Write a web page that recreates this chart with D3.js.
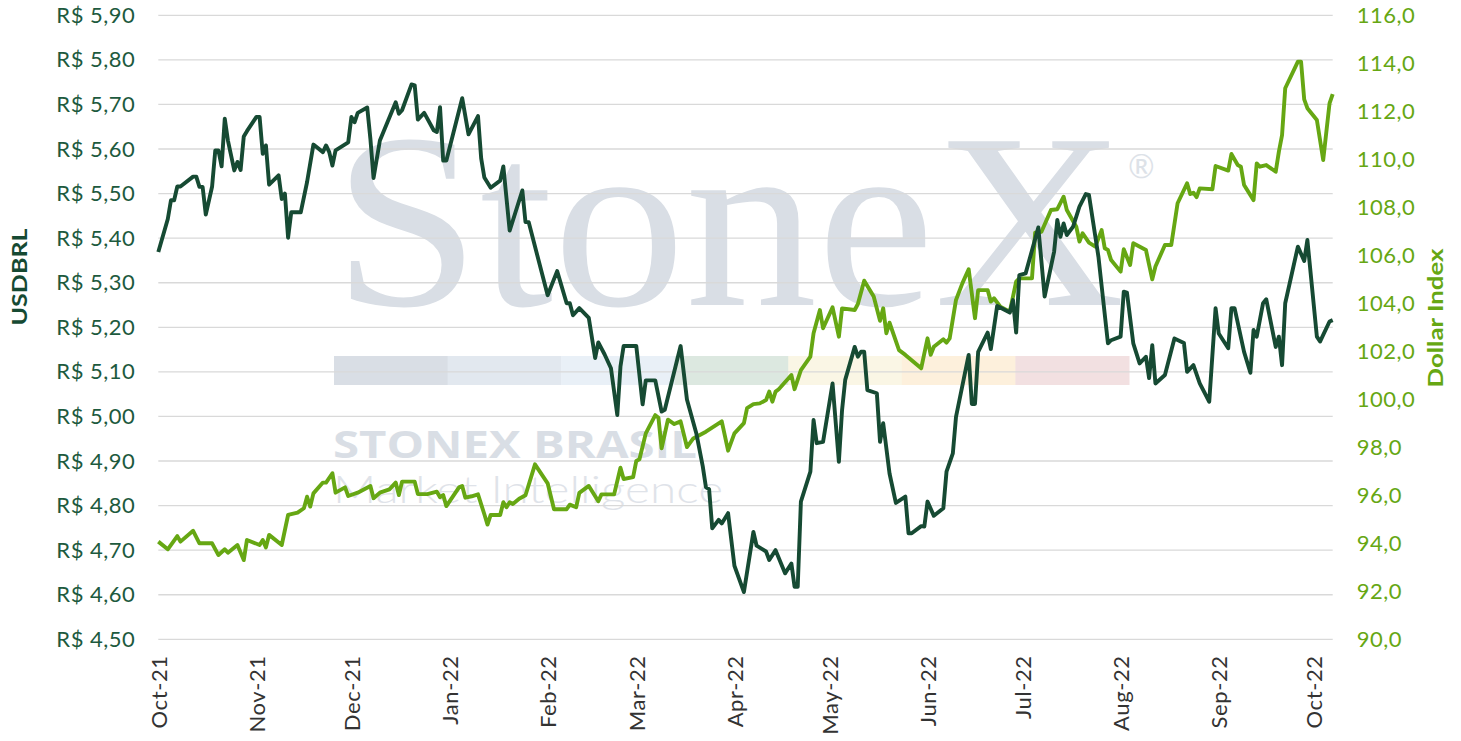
<!DOCTYPE html>
<html>
<head>
<meta charset="utf-8">
<script src="https://cdn.jsdelivr.net/npm/d3@7"></script>
<style>
  body { margin: 0; background: #ffffff; }
  svg { display: block; font-family: Lato, "Open Sans", sans-serif; }
</style>
</head>
<body>
<div id="chart"></div>
<script>
// USDBRL (left axis)
const usdbrlData = [
  ["2021-10-01",5.369],["2021-10-04",5.443],["2021-10-05",5.485],["2021-10-06",5.485],["2021-10-07",5.516],
  ["2021-10-08",5.516],["2021-10-12",5.538],["2021-10-13",5.538],["2021-10-14",5.515],["2021-10-15",5.515],
  ["2021-10-16",5.453],["2021-10-18",5.516],["2021-10-19",5.597],["2021-10-20",5.597],["2021-10-21",5.561],
  ["2021-10-22",5.668],["2021-10-23",5.619],["2021-10-25",5.552],["2021-10-26",5.571],["2021-10-27",5.553],
  ["2021-10-28",5.628],["2021-10-29",5.640],["2021-11-01",5.672],["2021-11-02",5.672],["2021-11-03",5.589],
  ["2021-11-04",5.608],["2021-11-05",5.520],["2021-11-08",5.541],["2021-11-09",5.488],["2021-11-10",5.500],
  ["2021-11-11",5.401],["2021-11-12",5.458],["2021-11-15",5.458],["2021-11-17",5.526],["2021-11-19",5.610],
  ["2021-11-22",5.593],["2021-11-23",5.608],["2021-11-24",5.593],["2021-11-25",5.563],["2021-11-26",5.597],
  ["2021-11-30",5.615],["2021-12-01",5.672],["2021-12-02",5.660],["2021-12-03",5.681],["2021-12-06",5.693],
  ["2021-12-07",5.623],["2021-12-08",5.535],["2021-12-10",5.619],["2021-12-15",5.705],["2021-12-16",5.679],
  ["2021-12-17",5.687],["2021-12-20",5.745],["2021-12-21",5.743],["2021-12-22",5.666],["2021-12-24",5.681],
  ["2021-12-27",5.642],["2021-12-28",5.638],["2021-12-29",5.694],["2021-12-30",5.574],["2021-12-31",5.574],
  ["2022-01-05",5.714],["2022-01-07",5.633],["2022-01-10",5.674],["2022-01-11",5.579],["2022-01-12",5.536],
  ["2022-01-14",5.513],["2022-01-17",5.529],["2022-01-18",5.561],["2022-01-20",5.417],["2022-01-24",5.507],
  ["2022-01-25",5.436],["2022-01-26",5.436],["2022-02-01",5.272],["2022-02-04",5.326],["2022-02-07",5.254],
  ["2022-02-08",5.254],["2022-02-09",5.227],["2022-02-11",5.243],["2022-02-14",5.221],["2022-02-16",5.131],
  ["2022-02-17",5.166],["2022-02-19",5.139],["2022-02-21",5.108],["2022-02-23",5.003],["2022-02-24",5.112],
  ["2022-02-25",5.158],["2022-03-01",5.158],["2022-03-03",5.027],["2022-03-04",5.081],["2022-03-07",5.081],
  ["2022-03-09",5.011],["2022-03-10",5.015],["2022-03-15",5.158],["2022-03-17",5.038],["2022-03-20",4.961],
  ["2022-03-22",4.888],["2022-03-23",4.841],["2022-03-24",4.837],["2022-03-25",4.749],["2022-03-27",4.768],
  ["2022-03-28",4.760],["2022-03-30",4.783],["2022-04-01",4.665],["2022-04-04",4.606],["2022-04-07",4.741],
  ["2022-04-08",4.710],["2022-04-11",4.697],["2022-04-12",4.678],["2022-04-14",4.700],["2022-04-17",4.648],
  ["2022-04-19",4.670],["2022-04-20",4.618],["2022-04-21",4.618],["2022-04-22",4.809],["2022-04-25",4.876],
  ["2022-04-26",4.992],["2022-04-27",4.940],["2022-04-29",4.943],["2022-05-02",5.074],["2022-05-04",4.898],
  ["2022-05-05",5.014],["2022-05-06",5.082],["2022-05-09",5.156],["2022-05-10",5.134],["2022-05-11",5.145],
  ["2022-05-12",5.145],["2022-05-13",5.059],["2022-05-16",5.052],["2022-05-17",4.943],["2022-05-18",4.985],
  ["2022-05-20",4.872],["2022-05-22",4.806],["2022-05-25",4.820],["2022-05-26",4.738],["2022-05-27",4.738],
  ["2022-05-30",4.754],["2022-05-31",4.753],["2022-06-01",4.809],["2022-06-03",4.777],["2022-06-06",4.794],
  ["2022-06-07",4.876],["2022-06-09",4.917],["2022-06-10",4.999],["2022-06-14",5.138],["2022-06-15",5.028],
  ["2022-06-16",5.028],["2022-06-17",5.145],["2022-06-20",5.188],["2022-06-21",5.151],["2022-06-23",5.248],
  ["2022-06-27",5.233],["2022-06-28",5.261],["2022-06-29",5.188],["2022-06-30",5.317],["2022-07-02",5.321],
  ["2022-07-06",5.424],["2022-07-08",5.269],["2022-07-11",5.370],["2022-07-12",5.441],["2022-07-13",5.403],
  ["2022-07-14",5.433],["2022-07-15",5.407],["2022-07-17",5.426],["2022-07-19",5.471],["2022-07-21",5.499],
  ["2022-07-22",5.497],["2022-07-25",5.358],["2022-07-28",5.164],["2022-07-29",5.171],["2022-08-01",5.179],
  ["2022-08-02",5.280],["2022-08-03",5.278],["2022-08-05",5.164],["2022-08-07",5.119],["2022-08-09",5.134],
  ["2022-08-10",5.086],["2022-08-11",5.160],["2022-08-12",5.074],["2022-08-15",5.093],["2022-08-18",5.175],
  ["2022-08-21",5.165],["2022-08-22",5.100],["2022-08-24",5.115],["2022-08-26",5.074],["2022-08-29",5.033],
  ["2022-08-31",5.243],["2022-09-01",5.186],["2022-09-04",5.153],["2022-09-05",5.243],["2022-09-06",5.243],
  ["2022-09-09",5.145],["2022-09-11",5.098],["2022-09-12",5.194],["2022-09-13",5.179],["2022-09-15",5.254],
  ["2022-09-16",5.263],["2022-09-19",5.156],["2022-09-20",5.179],["2022-09-21",5.115],["2022-09-22",5.254],
  ["2022-09-26",5.381],["2022-09-28",5.349],["2022-09-29",5.396],["2022-10-02",5.179],["2022-10-03",5.168],
  ["2022-10-06",5.213],["2022-10-07",5.216]
];

// Dollar Index (right axis)
const dxyData = [
  ["2021-10-01",94.07],["2021-10-04",93.75],["2021-10-07",94.30],["2021-10-08",94.07],["2021-10-12",94.52],
  ["2021-10-14",94.00],["2021-10-18",94.00],["2021-10-20",93.51],["2021-10-22",93.75],["2021-10-23",93.61],
  ["2021-10-26",93.93],["2021-10-28",93.30],["2021-10-29",94.14],["2021-11-02",93.93],["2021-11-03",94.14],
  ["2021-11-04",93.83],["2021-11-05",94.35],["2021-11-09",93.93],["2021-11-11",95.18],["2021-11-14",95.28],
  ["2021-11-16",95.46],["2021-11-17",95.94],["2021-11-18",95.53],["2021-11-19",96.08],["2021-11-22",96.53],
  ["2021-11-23",96.53],["2021-11-25",96.92],["2021-11-26",96.11],["2021-11-29",96.33],["2021-11-30",95.97],
  ["2021-12-03",96.11],["2021-12-07",96.39],["2021-12-08",95.88],["2021-12-10",96.11],["2021-12-13",96.25],
  ["2021-12-15",96.53],["2021-12-16",96.01],["2021-12-17",96.57],["2021-12-21",96.57],["2021-12-22",96.05],
  ["2021-12-25",96.05],["2021-12-28",96.15],["2021-12-29",95.92],["2021-12-30",96.01],["2021-12-31",95.55],
  ["2022-01-04",96.33],["2022-01-05",96.39],["2022-01-06",95.90],["2022-01-08",95.96],["2022-01-10",96.04],
  ["2022-01-12",95.21],["2022-01-13",94.78],["2022-01-14",95.18],["2022-01-17",95.18],["2022-01-18",95.71],
  ["2022-01-19",95.50],["2022-01-20",95.71],["2022-01-21",95.64],["2022-01-23",95.86],["2022-01-25",96.00],
  ["2022-01-28",97.29],["2022-02-01",96.50],["2022-02-03",95.42],["2022-02-07",95.42],["2022-02-08",95.61],
  ["2022-02-10",95.50],["2022-02-11",96.10],["2022-02-14",96.39],["2022-02-17",95.75],["2022-02-18",96.04],
  ["2022-02-22",96.04],["2022-02-24",97.15],["2022-02-25",96.68],["2022-02-28",96.76],["2022-03-01",97.43],
  ["2022-03-02",97.50],["2022-03-04",98.58],["2022-03-07",99.34],["2022-03-08",99.23],["2022-03-09",97.96],
  ["2022-03-11",99.15],["2022-03-13",98.97],["2022-03-15",99.08],["2022-03-17",98.01],["2022-03-19",98.37],
  ["2022-03-23",98.65],["2022-03-28",99.08],["2022-03-30",97.86],["2022-04-01",98.58],["2022-04-04",99.01],
  ["2022-04-05",99.63],["2022-04-07",99.80],["2022-04-09",99.83],["2022-04-11",99.97],["2022-04-12",100.32],
  ["2022-04-13",99.90],["2022-04-14",100.32],["2022-04-15",100.42],["2022-04-19",101.01],["2022-04-20",100.42],
  ["2022-04-22",101.22],["2022-04-25",101.78],["2022-04-26",102.75],["2022-04-28",103.72],["2022-04-29",102.96],
  ["2022-05-02",103.83],["2022-05-04",102.61],["2022-05-05",103.79],["2022-05-09",103.72],["2022-05-10",103.97],
  ["2022-05-12",104.94],["2022-05-15",104.28],["2022-05-17",103.27],["2022-05-18",103.79],["2022-05-19",102.75],
  ["2022-05-20",103.19],["2022-05-23",102.05],["2022-05-25",101.85],["2022-05-30",101.29],["2022-06-01",102.54],
  ["2022-06-02",101.85],["2022-06-03",102.19],["2022-06-06",102.50],["2022-06-07",102.36],["2022-06-08",102.54],
  ["2022-06-10",104.14],["2022-06-12",104.83],["2022-06-14",105.42],["2022-06-16",103.38],["2022-06-17",104.55],
  ["2022-06-20",104.55],["2022-06-21",104.07],["2022-06-22",104.21],["2022-06-24",103.86],["2022-06-27",103.65],
  ["2022-06-29",104.90],["2022-06-30",105.04],["2022-07-04",105.04],["2022-07-05",106.94],["2022-07-07",106.98],
  ["2022-07-10",107.89],["2022-07-12",107.92],["2022-07-14",108.44],["2022-07-15",107.89],["2022-07-18",107.19],
  ["2022-07-19",106.57],["2022-07-20",106.92],["2022-07-22",106.53],["2022-07-24",106.36],["2022-07-26",107.05],
  ["2022-07-27",106.29],["2022-07-28",106.22],["2022-07-29",105.80],["2022-08-01",105.32],["2022-08-02",106.25],
  ["2022-08-04",105.60],["2022-08-05",106.50],["2022-08-09",106.22],["2022-08-11",105.00],["2022-08-12",105.53],
  ["2022-08-15",106.43],["2022-08-17",106.43],["2022-08-19",108.17],["2022-08-22",109.00],["2022-08-23",108.55],
  ["2022-08-24",108.61],["2022-08-25",108.42],["2022-08-26",108.79],["2022-08-30",108.75],["2022-08-31",109.72],
  ["2022-09-04",109.53],["2022-09-05",110.22],["2022-09-07",109.76],["2022-09-08",109.69],["2022-09-09",108.93],
  ["2022-09-12",108.30],["2022-09-13",109.83],["2022-09-14",109.69],["2022-09-16",109.76],["2022-09-19",109.48],
  ["2022-09-20",110.32],["2022-09-21",111.01],["2022-09-22",112.96],["2022-09-26",114.07],["2022-09-27",114.07],
  ["2022-09-28",112.50],["2022-09-29",112.13],["2022-10-02",111.64],["2022-10-04",109.97],["2022-10-06",112.33],
  ["2022-10-07",112.72]
];

const leftTicks = [4.5, 4.6, 4.7, 4.8, 4.9, 5.0, 5.1, 5.2, 5.3, 5.4, 5.5, 5.6, 5.7, 5.8, 5.9];
const rightTicks = [90, 92, 94, 96, 98, 100, 102, 104, 106, 108, 110, 112, 114, 116];
const monthTicks = ["2021-10-01","2021-11-01","2021-12-01","2022-01-01","2022-02-01","2022-03-01","2022-04-01",
                    "2022-05-01","2022-06-01","2022-07-01","2022-08-01","2022-09-01","2022-10-01"];
const monthLabels = ["Oct-21","Nov-21","Dec-21","Jan-22","Feb-22","Mar-22","Apr-22",
                     "May-22","Jun-22","Jul-22","Aug-22","Sep-22","Oct-22"];
const dateRange = ["2021-10-01", "2022-10-07"];

// watermark band colours
const bandColors = ["#d9dee5", "#e2e8ef", "#e9f0f7", "#dce8e0", "#faf6e5", "#fdf0dc", "#f2e0e1"];

const width = 1461;
const height = 741;
const plotLeft = 158.3, plotRight = 1332.7, plotTop = 15.3, plotBottom = 639.3;

const darkGreen = '#164a33';
const labelGreen = '#1d5a3e';
const lightGreen = '#66a713';

const parse = d3.timeParse('%Y-%m-%d');
const ptBR = d3.formatLocale({ decimal: ',', thousands: '.', grouping: [3], currency: ['R$ ', ''] });
const fmtLeft = ptBR.format('$.2f');
const fmtRight = ptBR.format('.1f');

const x = d3.scaleTime().domain(dateRange.map(parse)).range([plotLeft, plotRight]);
const yLeft = d3.scaleLinear().domain([4.5, 5.9]).range([plotBottom, plotTop]);
const yRight = d3.scaleLinear().domain([90, 116]).range([plotBottom, plotTop]);

const svg = d3.select('#chart')
  .append('svg')
  .attr('width', width)
  .attr('height', height)
  .attr('viewBox', [0, 0, width, height]);

svg.append('rect').attr('width', width).attr('height', height).attr('fill', '#ffffff');

// --- StoneX watermark ---
const wm = svg.append('g').attr('class', 'watermark');
wm.append('text')
  .attr('x', 333).attr('y', 305)
  .attr('font-family', '"Liberation Serif", "DejaVu Serif", serif')
  .attr('font-size', 250)
  .attr('textLength', 792).attr('lengthAdjust', 'spacingAndGlyphs')
  .attr('fill', '#d9dee5')
  .text('StoneX');
wm.append('text')
  .attr('x', 1128).attr('y', 178)
  .attr('font-size', 32)
  .attr('fill', '#dde2e8')
  .text('®');

const bandW = (1129 - 334) / bandColors.length;
wm.selectAll('rect.band')
  .data(bandColors)
  .join('rect')
  .attr('class', 'band')
  .attr('x', (d, i) => 334 + i * bandW)
  .attr('y', 356)
  .attr('width', bandW + 0.5)
  .attr('height', 29)
  .attr('fill', (d) => d);

wm.append('text')
  .attr('x', 333).attr('y', 458)
  .attr('font-family', '"Open Sans", Lato, sans-serif')
  .attr('font-weight', 700)
  .attr('font-size', 37)
  .attr('textLength', 364).attr('lengthAdjust', 'spacingAndGlyphs')
  .attr('fill', '#d9dee5')
  .text('STONEX BRASIL');
wm.append('text')
  .attr('x', 333).attr('y', 503)
  .attr('font-family', 'Lato, sans-serif')
  .attr('font-weight', 300)
  .attr('font-size', 38)
  .attr('textLength', 390).attr('lengthAdjust', 'spacingAndGlyphs')
  .attr('fill', '#dfe3e9')
  .text('Market Intelligence');

// gridlines
svg.append('g')
  .selectAll('line')
  .data(leftTicks)
  .join('line')
  .attr('x1', plotLeft)
  .attr('x2', plotRight)
  .attr('y1', (d) => yLeft(d))
  .attr('y2', (d) => yLeft(d))
  .attr('stroke', '#d9d9d9')
  .attr('stroke-width', 1.3);

// left axis
const gL = svg.append('g')
  .attr('transform', `translate(${plotLeft},0)`)
  .call(d3.axisLeft(yLeft).tickValues(leftTicks).tickFormat(fmtLeft).tickSize(0).tickPadding(23));
gL.select('.domain').remove();
gL.selectAll('text')
  .attr('fill', labelGreen)
  .attr('font-size', 22)
  .attr('letter-spacing', 0.5)
  .attr('font-family', 'Lato, sans-serif');

// right axis
const gR = svg.append('g')
  .attr('transform', `translate(${plotRight},0)`)
  .call(d3.axisRight(yRight).tickValues(rightTicks).tickFormat(fmtRight).tickSize(0).tickPadding(24));
gR.select('.domain').remove();
gR.selectAll('text')
  .attr('fill', lightGreen)
  .attr('font-size', 22)
  .attr('letter-spacing', 0.5)
  .attr('font-family', 'Lato, sans-serif');

// bottom axis, rotated month labels
const gX = svg.append('g')
  .attr('transform', `translate(0,${plotBottom})`)
  .call(d3.axisBottom(x).tickValues(monthTicks.map(parse)).tickFormat((d, i) => monthLabels[i]).tickSize(0));
gX.select('.domain').remove();
gX.selectAll('text')
  .attr('transform', 'rotate(-90)')
  .attr('x', -16)
  .attr('y', 0)
  .attr('dy', '0.36em')
  .attr('text-anchor', 'end')
  .attr('fill', '#333333')
  .attr('font-size', 22)
  .attr('letter-spacing', 0.6)
  .attr('font-family', 'Lato, sans-serif');

// axis titles
svg.append('text')
  .attr('transform', 'translate(27,277) rotate(-90)')
  .attr('text-anchor', 'middle')
  .attr('font-weight', 700)
  .attr('font-size', 21)
  .attr('textLength', 97).attr('lengthAdjust', 'spacingAndGlyphs')
  .attr('fill', darkGreen)
  .text('USDBRL');
svg.append('text')
  .attr('transform', 'translate(1443,318) rotate(-90)')
  .attr('text-anchor', 'middle')
  .attr('font-weight', 700)
  .attr('font-size', 21)
  .attr('textLength', 139).attr('lengthAdjust', 'spacingAndGlyphs')
  .attr('fill', lightGreen)
  .text('Dollar Index');

// series
const lineLeft = d3.line().x((d) => x(parse(d[0]))).y((d) => yLeft(d[1]));
const lineRight = d3.line().x((d) => x(parse(d[0]))).y((d) => yRight(d[1]));

svg.append('path')
  .datum(dxyData)
  .attr('fill', 'none')
  .attr('stroke', lightGreen)
  .attr('stroke-width', 3.9)
  .attr('stroke-linejoin', 'round')
  .attr('d', lineRight);

svg.append('path')
  .datum(usdbrlData)
  .attr('fill', 'none')
  .attr('stroke', darkGreen)
  .attr('stroke-width', 3.9)
  .attr('stroke-linejoin', 'round')
  .attr('d', lineLeft);
</script>
</body>
</html>
